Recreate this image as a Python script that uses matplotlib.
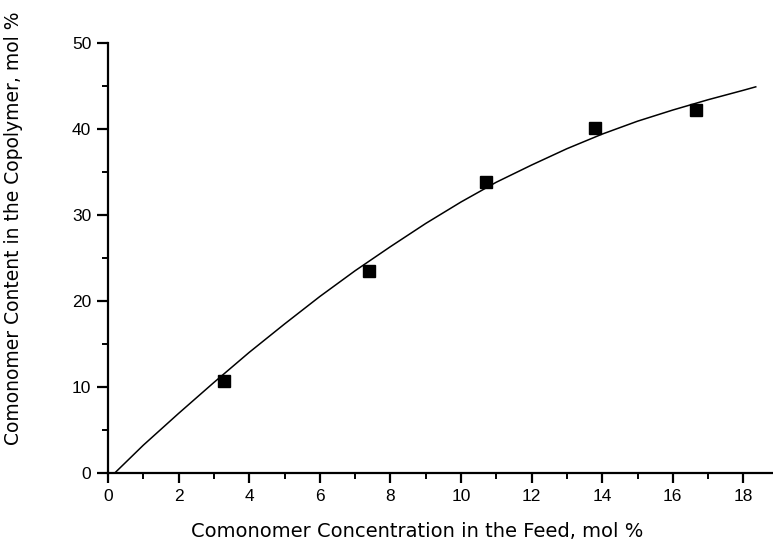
import matplotlib
matplotlib.use("Agg")
import matplotlib.pyplot as plt
from matplotlib.ticker import MultipleLocator

plt.rcParams['font.family'] = ['Liberation Sans', 'DejaVu Sans']

# measured data points
feed_conc = [3.3, 7.4, 10.7, 13.8, 16.65]
copolymer_content = [10.7, 23.5, 33.8, 40.1, 42.2]

# fitted curve
curve_x = [0.2, 1, 2, 3, 4, 5, 6, 7, 8, 9, 10, 11, 12, 13, 14, 15, 16, 17, 18, 18.35]
curve_y = [0.0, 3.2, 6.9, 10.5, 14.0, 17.3, 20.5, 23.5, 26.3, 29.0, 31.5, 33.8,
           35.8, 37.7, 39.4, 40.9, 42.2, 43.4, 44.5, 44.9]

W, H = 773, 542
fig = plt.figure(figsize=(W / 100, H / 100), dpi=100)
ax = fig.add_axes([108 / W, (H - 472.7) / H, (W - 108) / W, (472.7 - 43) / H])

ax.plot(curve_x, curve_y, color='black', lw=1.1)
ax.plot(feed_conc, copolymer_content, 's', color='black', ms=8)

ax.set_xlim(0, (W - 108) / 35.3)
ax.set_ylim(0, 50)
ax.xaxis.set_major_locator(MultipleLocator(2))
ax.xaxis.set_minor_locator(MultipleLocator(1))
ax.yaxis.set_major_locator(MultipleLocator(10))
ax.yaxis.set_minor_locator(MultipleLocator(5))

for s in ['top', 'right']:
    ax.spines[s].set_visible(False)
for s in ['left', 'bottom']:
    ax.spines[s].set_linewidth(1.6)

ax.tick_params(axis='y', which='major', length=8, width=1.6, labelsize=12.5, pad=4)
ax.tick_params(axis='y', which='minor', length=4, width=1.4)
ax.tick_params(axis='x', which='major', length=7, width=1.6, labelsize=12.5, pad=5)
ax.tick_params(axis='x', which='minor', length=4, width=1.4)

ax.set_xlabel('Comonomer Concentration in the Feed, mol %', fontsize=14,
              family=['DejaVu Sans'])
ax.set_ylabel('Comonomer Content in the Copolymer, mol %', fontsize=13.5,
              family=['DejaVu Sans'])
ax.xaxis.set_label_coords((417.5 - 108) / 665, -(522 - 472.7) / 429.7)
ax.yaxis.set_label_coords((23 - 108) / 665, (472.7 - 228.5) / 429.7)

fig.savefig('out.png', dpi=100)
